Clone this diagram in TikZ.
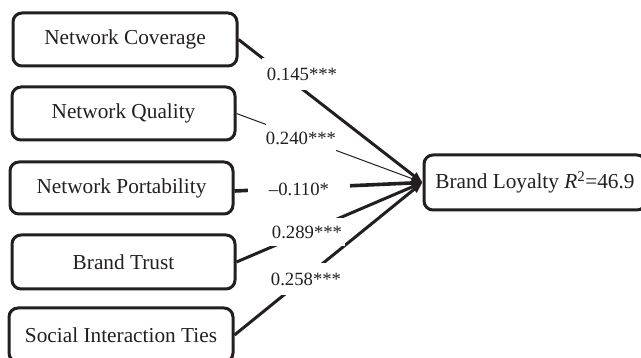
\documentclass[tikz,border=0pt]{standalone}
\usepackage{fontspec}
\setmainfont{Liberation Serif}
\usetikzlibrary{arrows.meta}
\definecolor{ink}{HTML}{231F20}
\begin{document}
\begin{tikzpicture}[x=1pt,y=-1pt,
  box/.style={draw=ink, text=ink, line width=3pt, rounded corners=9pt, inner sep=0pt,
    font=\fontsize{21.3}{25}\selectfont},
  lab/.style={fill=white, text=ink, inner sep=0pt, font=\fontsize{18.7}{22}\selectfont},
  conn/.style={draw=ink, -{Triangle[length=11pt,width=8pt]}, line width=3pt},
]
\useasboundingbox (0,0) rectangle (641,358);
\clip (0,0) rectangle (641,358);
% boxes
\node[box, minimum width=224pt, minimum height=53pt] (nc) at (125,39.5) {Network Coverage};
\node[box, minimum width=223pt, minimum height=53pt] (nq) at (123.5,113.5) {Network Quality};
\node[box, minimum width=223pt, minimum height=52pt] (np) at (121.5,188) {Network Portability};
\node[box, minimum width=223pt, minimum height=54pt] (bt) at (123.5,262) {Brand Trust};
\node[box, minimum width=224pt, minimum height=54pt] (si) at (121,335) {Social Interaction Ties};
\node[box, minimum width=222pt, minimum height=55pt] (bl) at (535,182.5) {Brand Loyalty \textit{R}\textsuperscript{2}=46.9};
% connectors
\draw[conn] (nc.east) -- (bl.west);
\draw[conn, line width=1pt] (nq.east) -- (bl.west);
\draw[conn, line width=3.6pt] ([yshift=-3pt]np.east) -- (bl.west);
\draw[conn] (bt.east) -- (bl.west);
\draw[conn] (si.east) -- (bl.west);
% labels
\node[lab, minimum width=80pt, minimum height=32pt] (l1) at (302,74) {0.145***};
\node[lab, minimum width=70pt, minimum height=30pt] (l2) at (301,138) {0.240***};
\node[lab, minimum width=102pt, minimum height=24pt] (l3) at (299,189) {\textendash0.110*};
\node[lab, minimum width=76pt, minimum height=28pt] (l4) at (307,232) {0.289***};
\node[lab, minimum width=76pt, minimum height=32pt] (l5) at (306,279) {0.258***};
\end{tikzpicture}
\end{document}
